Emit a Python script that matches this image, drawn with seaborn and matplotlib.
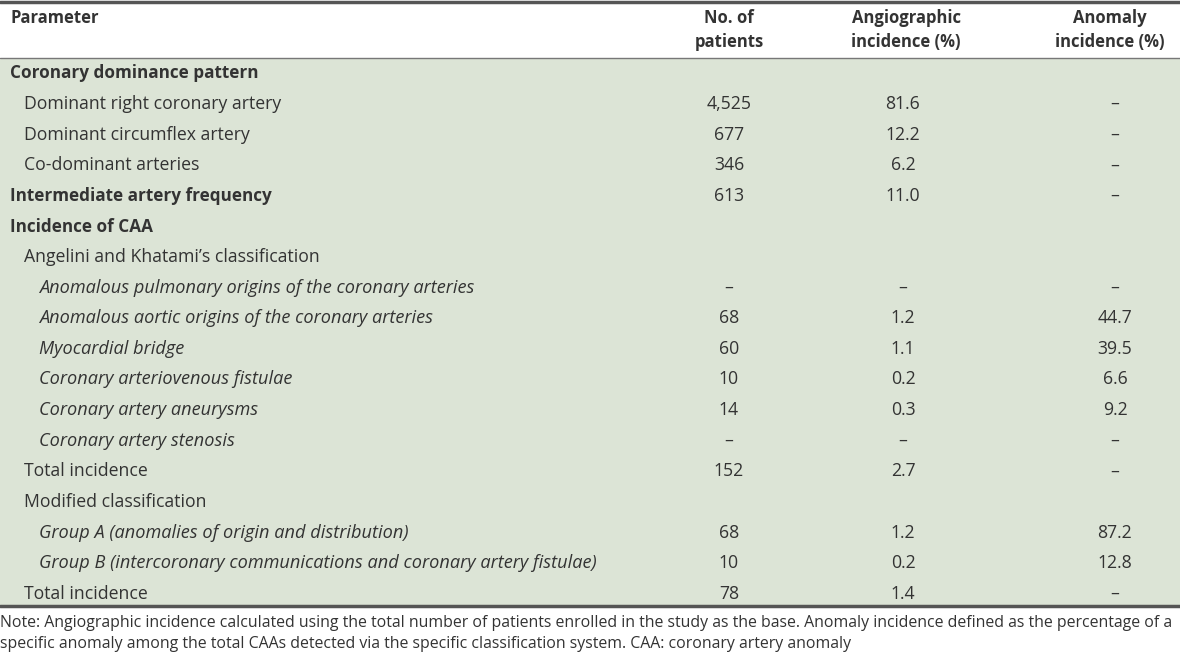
import matplotlib.pyplot as plt
import seaborn as sns

# table content
labels = [
    "Coronary dominance pattern",
    "Dominant right coronary artery",
    "Dominant circumflex artery",
    "Co-dominant arteries",
    "Intermediate artery frequency",
    "Incidence of CAA",
    "Angelini and Khatami\u2019s classification",
    "Anomalous pulmonary origins of the coronary arteries",
    "Anomalous aortic origins of the coronary arteries",
    "Myocardial bridge",
    "Coronary arteriovenous fistulae",
    "Coronary artery aneurysms",
    "Coronary artery stenosis",
    "Total incidence",
    "Modified classification",
    "Group A (anomalies of origin and distribution)",
    "Group B (intercoronary communications and coronary artery fistulae)",
    "Total incidence",
]
levels = [0, 1, 1, 1, 0, 0, 1, 2, 2, 2, 2, 2, 2, 1, 1, 2, 2, 1]
bold_rows = [0, 4, 5]
patients = ["", "4,525", "677", "346", "613", "", "", "\u2013", "68", "60", "10", "14", "\u2013", "152", "", "68", "10", "78"]
angio = ["", "81.6", "12.2", "6.2", "11.0", "", "", "\u2013", "1.2", "1.1", "0.2", "0.3", "\u2013", "2.7", "", "1.2", "0.2", "1.4"]
anomaly = ["", "\u2013", "\u2013", "\u2013", "\u2013", "", "", "\u2013", "44.7", "39.5", "6.6", "9.2", "\u2013", "\u2013", "", "87.2", "12.8", "\u2013"]
headers = [("Parameter", ""), ("No. of", "patients"), ("Angiographic", "incidence (%)"), ("Anomaly", "incidence (%)")]
note1 = ("Note: Angiographic incidence calculated using the total number of patients enrolled in the study as the base. "
         "Anomaly incidence defined as the percentage of a")
note2 = "specific anomaly among the total CAAs detected via the specific classification system. CAA: coronary artery anomaly"

sns.set_theme(style="white")
plt.rcParams['font.family'] = ['Open Sans', 'DejaVu Sans']

txt = "#333333"
green = "#dce4d6"

fig = plt.figure(figsize=(11.8, 6.54), dpi=100)
ax = fig.add_axes([0, 0, 1, 1])
ax.set_xlim(0, 1180)
ax.set_ylim(654, 0)
ax.axis("off")

ax.axhspan(58, 606, color=green, lw=0)
ax.axhline(1.5, color="#555555", lw=2.5)
ax.axhline(57.5, color="#777777", lw=1)
ax.axhline(606, color="#555555", lw=2.5)

col_x = [729, 903, 1115]
head_dx = [0, 3, -5]
ax.text(10, 18, headers[0][0], ha="left", va="center", fontsize=12, fontweight="bold", color=txt)
for x, dx, (h1, h2) in zip(col_x, head_dx, headers[1:]):
    ax.text(x + dx, 18, h1, ha="center", va="center", fontsize=12, fontweight="bold", color=txt)
    ax.text(x + dx, 42, h2, ha="center", va="center", fontsize=12, fontweight="bold", color=txt)

row_h = 30.6
sizes = {0: 12.7, 1: 12.7, 2: 13.1}
for i, lab in enumerate(labels):
    y = 73.5 + i * row_h
    style = "italic" if levels[i] == 2 else "normal"
    weight = "bold" if i in bold_rows else "normal"
    fs = 12.3 if i in bold_rows else sizes[levels[i]]
    ax.text(10 + 14.5 * levels[i], y, lab, ha="left", va="center", fontsize=fs,
            fontstyle=style, fontweight=weight, color=txt)
    for x, v in zip(col_x, [patients[i], angio[i], anomaly[i]]):
        ax.text(x, y, v, ha="center", va="center", fontsize=12.7, color=txt)

# fit first note line to the table width
t1 = ax.text(0, 623, note1, ha="left", va="center", fontsize=11, color=txt)
fig.canvas.draw()
w = t1.get_window_extent().width
fs_note = 11 * 1177 / w
t1.set_fontsize(fs_note)
ax.text(0, 644, note2, ha="left", va="center", fontsize=fs_note, color=txt)

fig.savefig("out.png", dpi=100)
